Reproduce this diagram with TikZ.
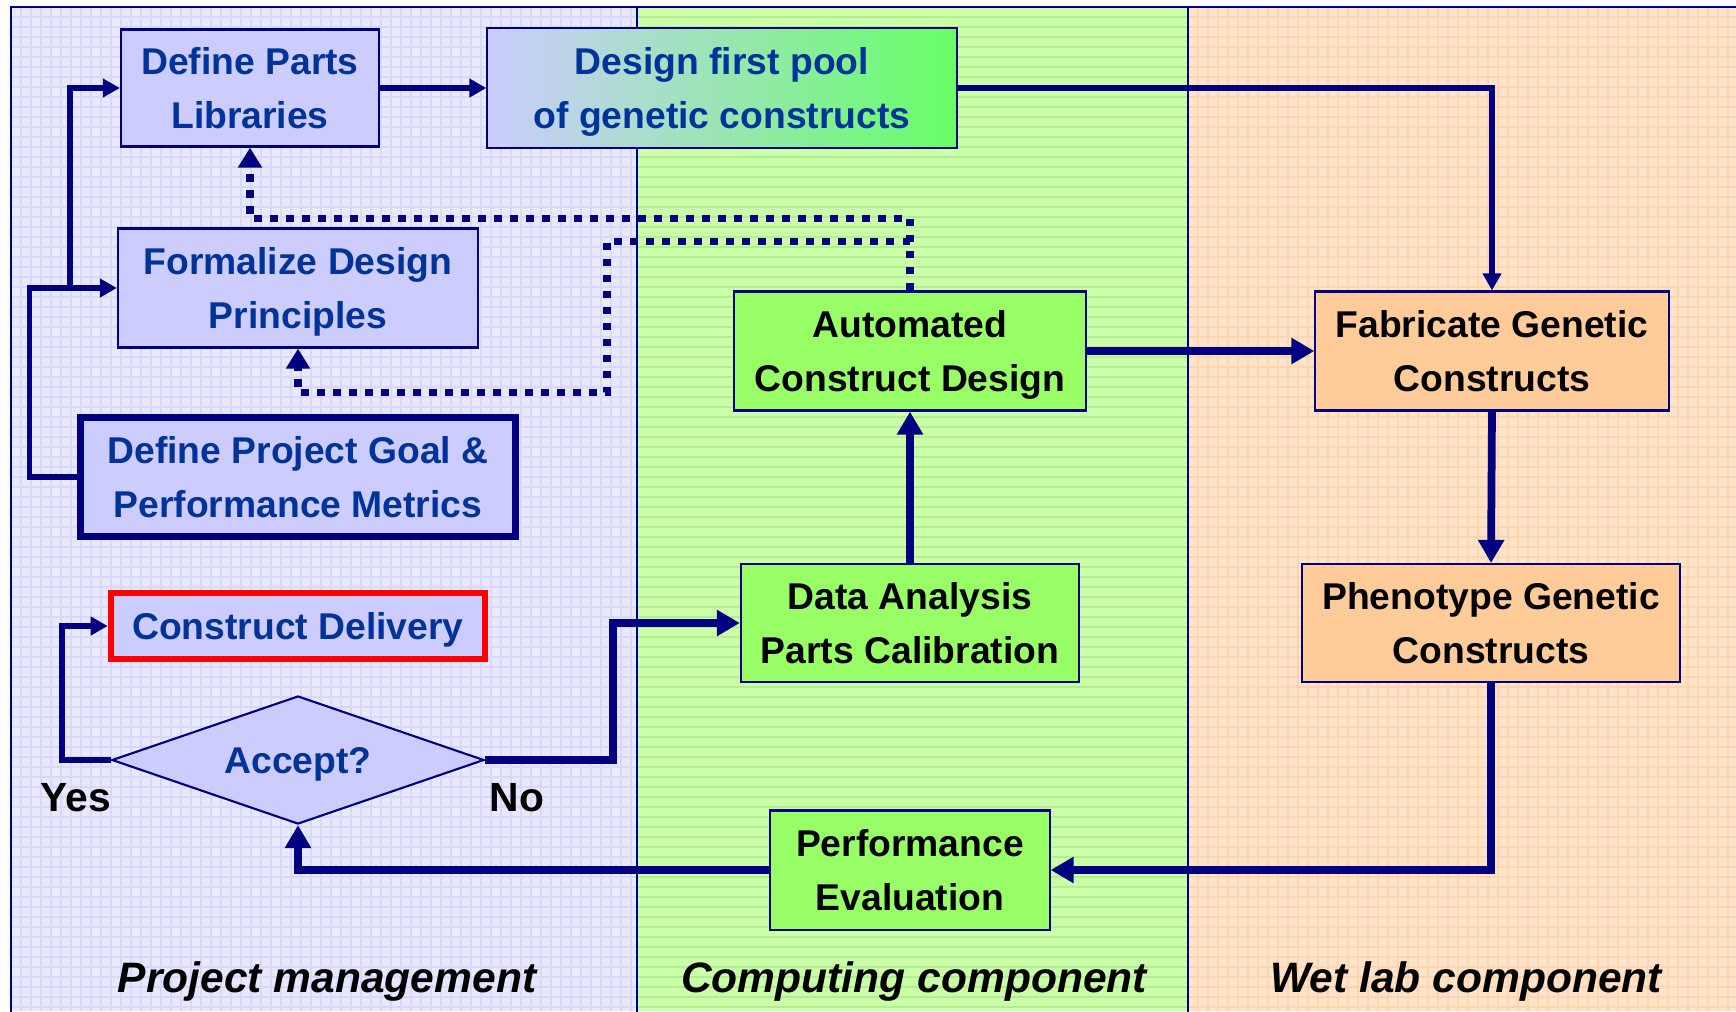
\documentclass[tikz,border=0pt]{standalone}
\usepackage{fontspec}
\setmainfont{Liberation Sans}
\usepackage{tikz}
\usetikzlibrary{arrows.meta,positioning,shapes.geometric}
\definecolor{navyline}{HTML}{000080}
\definecolor{labelblue}{HTML}{003399}
\definecolor{lanepurple}{HTML}{E8E8FF}
\definecolor{lanepurplegrid}{HTML}{D8D8FC}
\definecolor{lanegreen}{HTML}{CCFFAA}
\definecolor{lanegreenline}{HTML}{B0F090}
\definecolor{laneorange}{HTML}{FFE4CC}
\definecolor{laneorangegrid}{HTML}{FFD4AE}
\definecolor{boxpurple}{HTML}{CCCCFF}
\definecolor{boxgreen}{HTML}{99FF66}
\definecolor{boxorange}{HTML}{FFCC99}
\definecolor{poolgreen}{HTML}{66FF66}
\definecolor{deliveryred}{HTML}{FF0000}

\tikzset{
    box/.style={draw=navyline, line width=0.6pt, align=center, inner sep=0pt,
        font=\fontsize{10.6}{15.3}\selectfont\bfseries, text depth=-1.8pt},
    pmbox/.style={box, fill=boxpurple, text=labelblue},
    compbox/.style={box, fill=boxgreen, text=black},
    labbox/.style={box, fill=boxorange, text=black},
    flow/.style={navyline, line width=1.6pt, -{Triangle[length=0.17cm,width=0.18cm]}},
    bigflow/.style={navyline, line width=2.2pt, -{Triangle[length=0.23cm,width=0.25cm]}},
    feedback/.style={navyline, line width=2.1pt, dash pattern=on 0.075cm off 0.085cm,
        -{Triangle[length=0.2cm,width=0.23cm]}},
    lanetitle/.style={font=\fontsize{12.1}{14}\selectfont\bfseries\itshape},
    answer/.style={font=\fontsize{11.6}{14}\selectfont\bfseries},
}

\begin{document}
\begin{tikzpicture}[x=0.01cm, y=-0.01cm]
    \useasboundingbox (0,0) rectangle (1736,1011);

    % Lanes
    \fill[lanepurple] (11,7) rectangle (637,1011);
    \fill[lanegreen] (637,7) rectangle (1188,1011);
    \fill[laneorange] (1188,7) rectangle (1736,1011);
    \foreach \gx in {21,31,...,631} \draw[lanepurplegrid, line width=0.3pt] (\gx,7) -- (\gx,1011);
    \foreach \gy in {17,27,...,1011} \draw[lanepurplegrid, line width=0.3pt] (11,\gy) -- (637,\gy);
    \foreach \gy in {17,27,...,1011} \draw[lanegreenline, line width=0.3pt] (637,\gy) -- (1188,\gy);
    \foreach \gx in {1198,1208,...,1736} \draw[laneorangegrid, line width=0.3pt] (\gx,7) -- (\gx,1011);
    \foreach \gy in {17,27,...,1011} \draw[laneorangegrid, line width=0.3pt] (1188,\gy) -- (1736,\gy);
    \draw[navyline, line width=0.7pt] (11,1020) -- (11,7) -- (1745,7);
    \draw[navyline, line width=0.7pt] (637,7) -- (637,1020);
    \draw[navyline, line width=0.7pt] (1188,7) -- (1188,1020);

    % Project management
    \node[pmbox, minimum width=2.58cm, minimum height=1.17cm] (parts) at (250,88) {Define Parts\\Libraries};
    \node[pmbox, minimum width=3.6cm, minimum height=1.19cm] (principles) at (298,288) {Formalize Design\\Principles};
    \node[pmbox, line width=2pt, minimum width=4.34cm, minimum height=1.19cm] (goal) at (298,477) {Define Project Goal \&\\Performance Metrics};
    \node[pmbox, draw=deliveryred, line width=1.8pt, minimum width=3.74cm, minimum height=0.66cm] (delivery) at (298,626) {Construct Delivery};
    \node[pmbox, diamond, aspect=2.9, minimum width=3.72cm, minimum height=1.28cm] (accept) at (298,760) {Accept?};
    \node[answer] (yes) at (76,798) {Yes};
    \node[answer] (no) at (517,798) {No};

    % Computing component
    \node[box, left color=boxpurple, right color=poolgreen, text=labelblue,
        minimum width=4.69cm, minimum height=1.2cm] (pool) at (722,88) {Design first pool\\of genetic constructs};
    \node[compbox, minimum width=3.51cm, minimum height=1.19cm] (automated) at (910,351) {Automated\\Construct Design};
    \node[compbox, minimum width=3.38cm, minimum height=1.18cm] (data) at (910,623) {Data Analysis\\Parts Calibration};
    \node[compbox, minimum width=2.79cm, minimum height=1.19cm] (performance) at (910,870) {Performance\\Evaluation};

    % Wet lab component
    \node[labbox, minimum width=3.53cm, minimum height=1.19cm] (fabricate) at (1492,351) {Fabricate Genetic\\Constructs};
    \node[labbox, minimum width=3.78cm, minimum height=1.18cm] (phenotype) at (1491,623) {Phenotype Genetic\\Constructs};

    % Lane titles
    \node[lanetitle] (pmtitle) at (327,981) {Project management};
    \node[lanetitle] (comptitle) at (914,981) {Computing component};
    \node[lanetitle] (labtitle) at (1466,981) {Wet lab component};

    % Flow
    \draw[flow] (goal.west) -- ++(-48,0) |- (principles.west);
    \draw[flow] (principles.west) ++(-47,0) |- (parts.west);
    \draw[flow] (parts.east) -- (pool.west);
    \draw[flow] (pool.east) -| (fabricate.north);
    \draw[bigflow] (automated.east) -- (fabricate.west);
    \draw[bigflow] (fabricate.south) -- (phenotype.north);
    \draw[bigflow] (phenotype.south) |- (performance.east);
    \draw[bigflow] (performance.west) -| (accept.south);
    \draw[flow] (accept.west) -- ++(-49,0) |- (delivery.west);
    \draw[bigflow] (accept.east) -- ++(128,0) |- (data.west);
    \draw[bigflow] (data.north) -- (automated.south);

    % Feedback
    \draw[feedback] (automated.north) -- ++(0,-72) -| (parts.south);
    \draw[feedback] (automated.north) ++(0,-49) -- ++(-303,0) -- ++(0,151) -| (principles.south);
\end{tikzpicture}
\end{document}
